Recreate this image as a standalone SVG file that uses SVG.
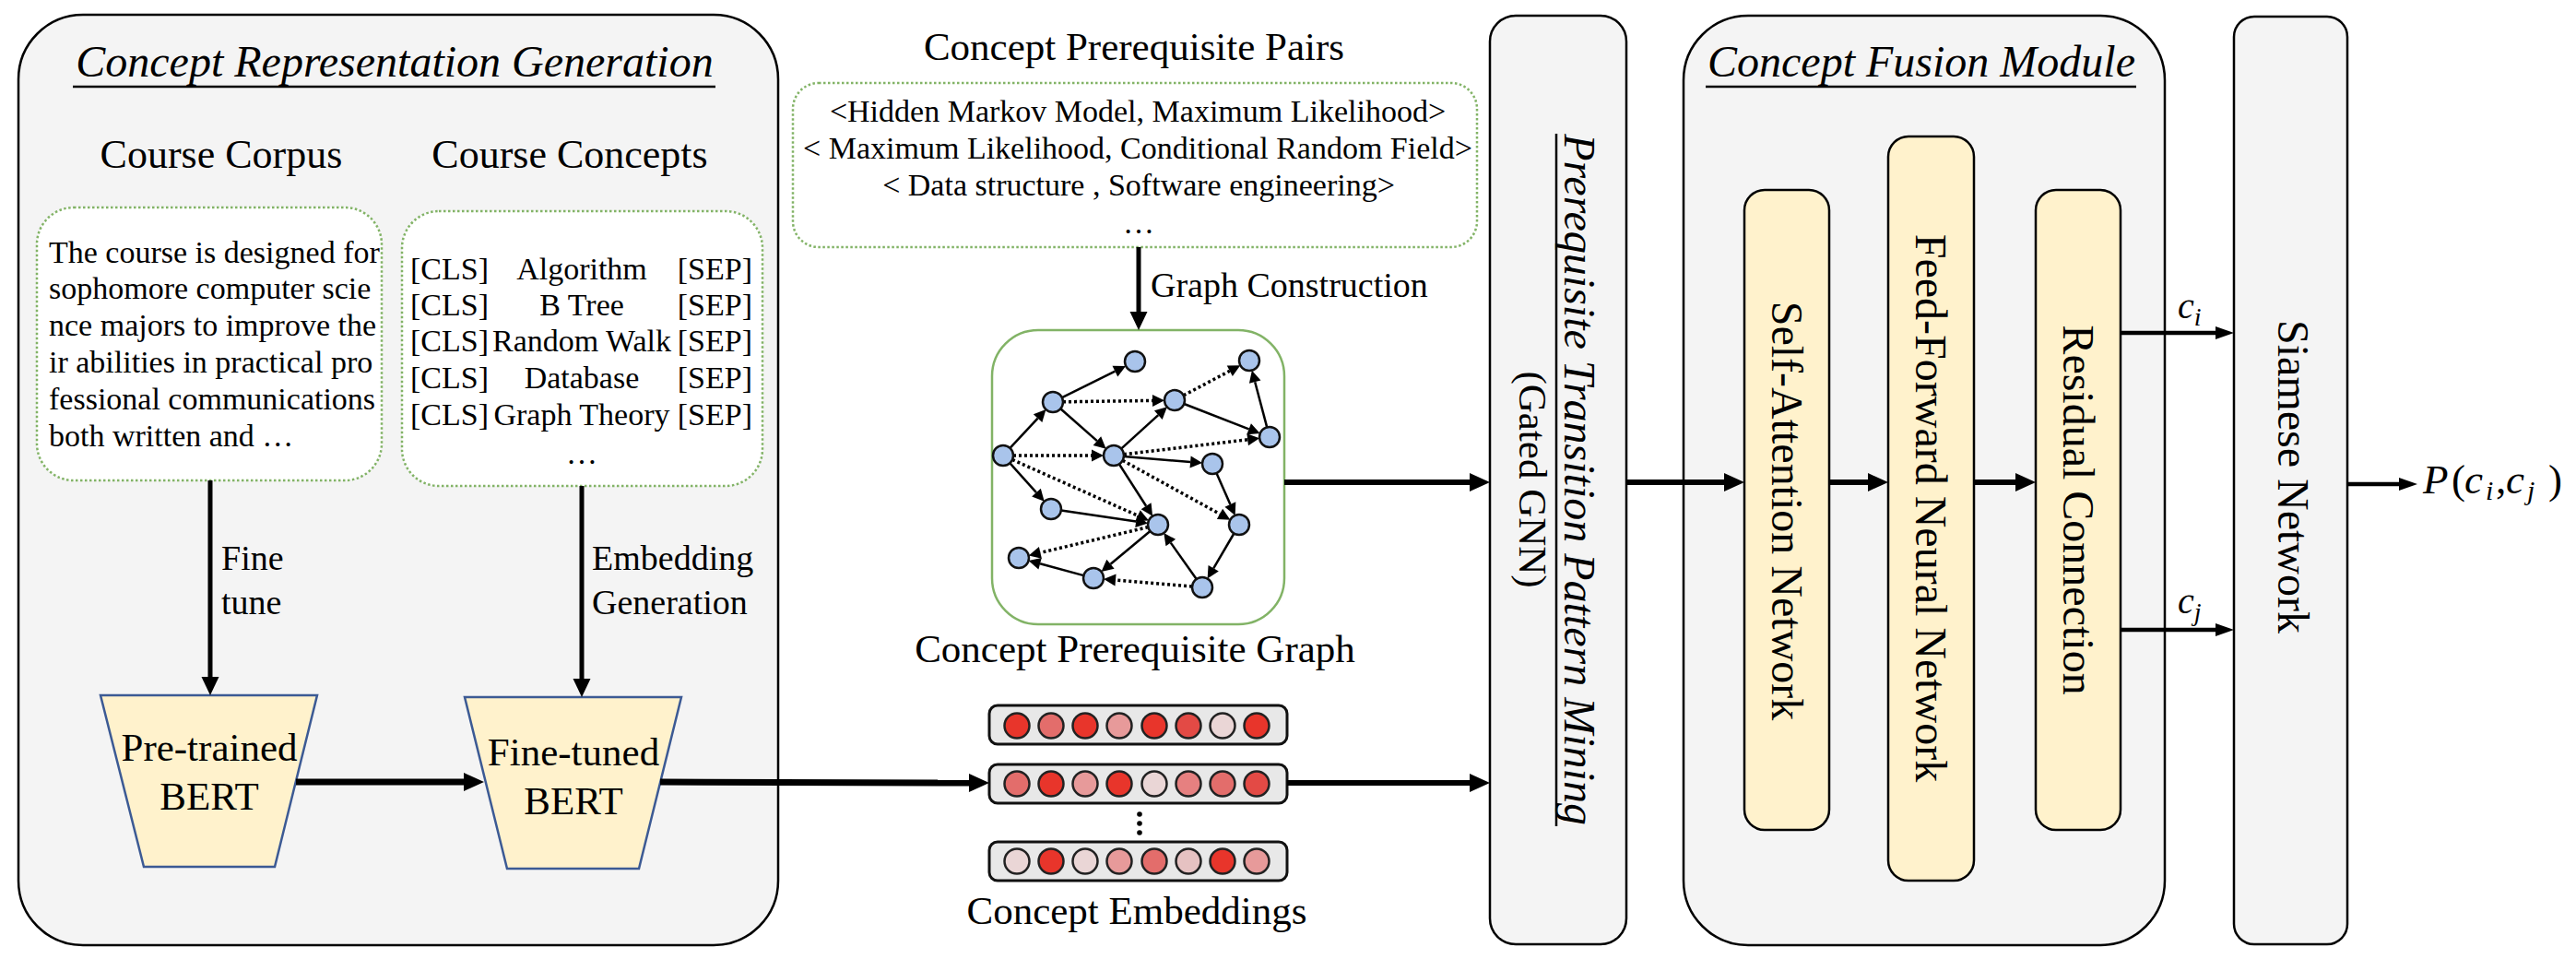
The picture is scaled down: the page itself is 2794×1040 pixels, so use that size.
<svg xmlns="http://www.w3.org/2000/svg" width="2794" height="1040" viewBox="0 0 2794 1040">
<defs>
<style>
.panel{fill:#f4f4f4;stroke:#000;stroke-width:2.5}
.dbox{fill:#fff;stroke:#82b366;stroke-width:2.5;stroke-dasharray:2.5 2.5}
.t{font-family:"Liberation Serif","Times New Roman",serif;fill:#000}
.yel{fill:#fff2cc;stroke:#000;stroke-width:2.5}
.trap{fill:#fff2cc;stroke:#3c5a94;stroke-width:2.5}
.ge{stroke:#000;stroke-width:2.5;fill:none}
.gd{stroke:#000;stroke-width:3.5;stroke-dasharray:3 3;fill:none}
.node{fill:#a9c4eb;stroke:#111;stroke-width:2.5}
.emb{fill:#e8e8e8;stroke:#111;stroke-width:3}
.ec{stroke:#222;stroke-width:2.5}
.c1{fill:#e8352b}.c2{fill:#e36d6b}.c3{fill:#e79a9a}.c4{fill:#ead6d6}.c5{fill:#e34a45}.c6{fill:#e68080}.c7{fill:#e6c2c2}
</style>
<marker id="aL" markerUnits="userSpaceOnUse" markerWidth="22" markerHeight="20" viewBox="0 -10 22 20" refX="0" refY="0" orient="auto" overflow="visible"><path d="M0,-10 L22,0 L0,10 z" fill="#000"/></marker>
<marker id="aM" markerUnits="userSpaceOnUse" markerWidth="20" markerHeight="19" viewBox="0 -9.5 20 19" refX="0" refY="0" orient="auto" overflow="visible"><path d="M0,-9.5 L20,0 L0,9.5 z" fill="#000"/></marker>
<marker id="aS" markerUnits="userSpaceOnUse" markerWidth="20" markerHeight="14" viewBox="0 -7 20 14" refX="0" refY="0" orient="auto" overflow="visible"><path d="M0,-7 L20,0 L0,7 z" fill="#000"/></marker>
<marker id="aG" markerUnits="userSpaceOnUse" markerWidth="13" markerHeight="13" viewBox="0 -6.5 13 13" refX="0" refY="0" orient="auto" overflow="visible"><path d="M0,-6.5 L13,0 L0,6.5 z" fill="#000"/></marker>
</defs>
<rect width="2794" height="1040" fill="#fff"/>

<g id="panel-crg">
<rect class="panel" x="20" y="16" width="824" height="1009" rx="70"/>
<text class="t" x="428" y="83" font-size="48" font-style="italic" text-anchor="middle">Concept Representation Generation</text>
<line x1="79" y1="94" x2="776" y2="94" stroke="#000" stroke-width="2.5"/>
</g>

<g id="course-corpus">
<text class="t" x="240" y="182" font-size="44" text-anchor="middle">Course Corpus</text>
<rect class="dbox" x="40" y="225" width="374" height="296" rx="40"/>
<g class="t" font-size="34">
<text x="53" y="285">The course is designed for</text>
<text x="53" y="324">sophomore computer scie</text>
<text x="53" y="364">nce majors to improve the</text>
<text x="53" y="404">ir abilities in practical pro</text>
<text x="53" y="444">fessional communications</text>
<text x="53" y="484">both written and  …</text>
</g>
</g>

<g id="course-concepts">
<text class="t" x="618" y="182" font-size="44" text-anchor="middle">Course Concepts</text>
<rect class="dbox" x="436" y="229" width="391" height="298" rx="40"/>
<g class="t" font-size="34">
<text x="445" y="303">[CLS]</text><text x="631" y="303" text-anchor="middle">Algorithm</text><text x="816" y="303" text-anchor="end">[SEP]</text>
<text x="445" y="342">[CLS]</text><text x="631" y="342" text-anchor="middle">B Tree</text><text x="816" y="342" text-anchor="end">[SEP]</text>
<text x="445" y="381">[CLS]</text><text x="631" y="381" text-anchor="middle">Random Walk</text><text x="816" y="381" text-anchor="end">[SEP]</text>
<text x="445" y="421">[CLS]</text><text x="631" y="421" text-anchor="middle">Database</text><text x="816" y="421" text-anchor="end">[SEP]</text>
<text x="445" y="461">[CLS]</text><text x="631" y="461" text-anchor="middle">Graph Theory</text><text x="816" y="461" text-anchor="end">[SEP]</text>
<text x="631" y="503" text-anchor="middle">…</text>
</g>
</g>

<g id="pretrained-bert">
<polygon class="trap" points="109,754 344,754 298,940 156,940"/>
<text class="t" x="227" y="825" font-size="43" text-anchor="middle">Pre-trained</text>
<text class="t" x="227" y="878" font-size="43" text-anchor="middle">BERT</text>
</g>

<g id="finetuned-bert">
<polygon class="trap" points="504,756 739,756 693,942 550,942"/>
<text class="t" x="622" y="830" font-size="43" text-anchor="middle">Fine-tuned</text>
<text class="t" x="622" y="883" font-size="43" text-anchor="middle">BERT</text>
</g>

<g id="prereq-pairs">
<text class="t" x="1230" y="65" font-size="43" text-anchor="middle">Concept Prerequisite Pairs</text>
<rect class="dbox" x="860" y="90" width="742" height="178" rx="28"/>
<g class="t" font-size="34" text-anchor="middle">
<text x="1234" y="132">&lt;Hidden Markov Model, Maximum Likelihood&gt;</text>
<text x="1234" y="172">&lt; Maximum Likelihood, Conditional Random Field&gt;</text>
<text x="1235" y="212">&lt; Data structure , Software engineering&gt;</text>
<text x="1235" y="253">…</text>
</g>
</g>

<g id="prereq-graph">
<rect x="1076" y="358" width="317" height="319" rx="50" fill="#fff" stroke="#82b366" stroke-width="2.5"/>
<g>
<line class="ge" x1="1151.9" y1="431.1" x2="1209.4" y2="402.7" marker-end="url(#aG)"/>
<line class="gd" x1="1153" y1="435.8" x2="1250" y2="434.4" marker-end="url(#aG)"/>
<line class="ge" x1="1150.3" y1="443.3" x2="1189.9" y2="478.1" marker-end="url(#aG)"/>
<line class="ge" x1="1095.5" y1="485.9" x2="1125.6" y2="453.6" marker-end="url(#aG)"/>
<line class="gd" x1="1099" y1="494" x2="1184" y2="494" marker-end="url(#aG)"/>
<line class="ge" x1="1095.3" y1="502.2" x2="1124" y2="534.1" marker-end="url(#aG)"/>
<line class="gd" x1="1098" y1="498.5" x2="1234.1" y2="559.2" marker-end="url(#aG)"/>
<line class="ge" x1="1216.1" y1="486.6" x2="1256.3" y2="450.1" marker-end="url(#aG)"/>
<line class="gd" x1="1218.9" y1="492.7" x2="1353.2" y2="476.8" marker-end="url(#aG)"/>
<line class="ge" x1="1219" y1="494.9" x2="1291.1" y2="501" marker-end="url(#aG)"/>
<line class="ge" x1="1213.9" y1="503.3" x2="1243.1" y2="548.8" marker-end="url(#aG)"/>
<line class="gd" x1="1217.6" y1="499.3" x2="1323" y2="557.4" marker-end="url(#aG)"/>
<line class="gd" x1="1283.7" y1="428.8" x2="1333.8" y2="402.3" marker-end="url(#aG)"/>
<line class="ge" x1="1284.3" y1="438" x2="1354.6" y2="465.3" marker-end="url(#aG)"/>
<line class="ge" x1="1374.2" y1="463.4" x2="1361.2" y2="414.2" marker-end="url(#aG)"/>
<line class="ge" x1="1319.4" y1="513.1" x2="1334.4" y2="547" marker-end="url(#aG)"/>
<line class="ge" x1="1150.9" y1="553.6" x2="1232.2" y2="565.5" marker-end="url(#aG)"/>
<line class="gd" x1="1245.3" y1="571.6" x2="1128.4" y2="599.4" marker-end="url(#aG)"/>
<line class="ge" x1="1247.5" y1="576" x2="1204.5" y2="611.7" marker-end="url(#aG)"/>
<line class="ge" x1="1175.4" y1="624.1" x2="1128.1" y2="611.3" marker-end="url(#aG)"/>
<line class="gd" x1="1293" y1="636.1" x2="1210" y2="629" marker-end="url(#aG)"/>
<line class="ge" x1="1297.7" y1="628" x2="1269.8" y2="588.6" marker-end="url(#aG)"/>
<line class="ge" x1="1338.4" y1="578.5" x2="1316.2" y2="616.3" marker-end="url(#aG)"/>
</g>
<g>
<circle class="node" cx="1231" cy="392" r="11"/>
<circle class="node" cx="1355" cy="391" r="11"/>
<circle class="node" cx="1142" cy="436" r="11"/>
<circle class="node" cx="1274" cy="434" r="11"/>
<circle class="node" cx="1377" cy="474" r="11"/>
<circle class="node" cx="1088" cy="494" r="11"/>
<circle class="node" cx="1208" cy="494" r="11"/>
<circle class="node" cx="1315" cy="503" r="11"/>
<circle class="node" cx="1140" cy="552" r="11"/>
<circle class="node" cx="1256" cy="569" r="11"/>
<circle class="node" cx="1344" cy="569" r="11"/>
<circle class="node" cx="1105" cy="605" r="11"/>
<circle class="node" cx="1186" cy="627" r="11"/>
<circle class="node" cx="1304" cy="637" r="11"/>
</g>
<text class="t" x="1231" y="718" font-size="43" text-anchor="middle">Concept Prerequisite Graph</text>
</g>

<g id="concept-embeddings">
<rect class="emb" x="1073" y="765" width="323" height="42" rx="9"/>
<rect class="emb" x="1073" y="829" width="323" height="42" rx="9"/>
<rect class="emb" x="1073" y="913" width="323" height="42" rx="9"/>
<g class="ec">
<circle class="c1" cx="1103" cy="787" r="13.5"/><circle class="c2" cx="1140" cy="787" r="13.5"/><circle class="c1" cx="1177" cy="787" r="13.5"/><circle class="c3" cx="1214" cy="787" r="13.5"/><circle class="c1" cx="1252" cy="787" r="13.5"/><circle class="c5" cx="1289" cy="787" r="13.5"/><circle class="c4" cx="1326" cy="787" r="13.5"/><circle class="c1" cx="1363" cy="787" r="13.5"/>
<circle class="c2" cx="1103" cy="850" r="13.5"/><circle class="c1" cx="1140" cy="850" r="13.5"/><circle class="c3" cx="1177" cy="850" r="13.5"/><circle class="c1" cx="1214" cy="850" r="13.5"/><circle class="c4" cx="1252" cy="850" r="13.5"/><circle class="c6" cx="1289" cy="850" r="13.5"/><circle class="c2" cx="1326" cy="850" r="13.5"/><circle class="c5" cx="1363" cy="850" r="13.5"/>
<circle class="c4" cx="1103" cy="934" r="13.5"/><circle class="c1" cx="1140" cy="934" r="13.5"/><circle class="c4" cx="1177" cy="934" r="13.5"/><circle class="c3" cx="1214" cy="934" r="13.5"/><circle class="c2" cx="1252" cy="934" r="13.5"/><circle class="c7" cx="1289" cy="934" r="13.5"/><circle class="c1" cx="1326" cy="934" r="13.5"/><circle class="c3" cx="1363" cy="934" r="13.5"/>
</g>
<circle cx="1236" cy="883" r="2.8" fill="#000"/><circle cx="1236" cy="893" r="2.8" fill="#000"/><circle cx="1236" cy="903" r="2.8" fill="#000"/>
<text class="t" x="1233" y="1002" font-size="43" text-anchor="middle">Concept Embeddings</text>
</g>

<g id="prereq-mining">
<rect class="panel" x="1616" y="17" width="148" height="1007" rx="28"/>
<text class="t" transform="translate(1697,520) rotate(90)" font-size="48" font-style="italic" text-anchor="middle">Prerequisite Transition Pattern Mining</text>
<line x1="1688" y1="145" x2="1688" y2="896" stroke="#000" stroke-width="2.5"/>
<text class="t" transform="translate(1648,520) rotate(90)" font-size="43" text-anchor="middle">(Gated GNN)</text>
</g>

<g id="fusion-module">
<rect class="panel" x="1826" y="17" width="522" height="1008" rx="70"/>
<text class="t" x="2084" y="83" font-size="48" font-style="italic" text-anchor="middle">Concept Fusion Module</text>
<line x1="1850" y1="94" x2="2317" y2="94" stroke="#000" stroke-width="2.5"/>
</g>

<g id="self-attention">
<rect class="yel" x="1892" y="206" width="92" height="694" rx="22"/>
<text class="t" transform="translate(1922,554) rotate(90)" font-size="48" text-anchor="middle">Self-Attention Network</text>
</g>
<g id="feed-forward">
<rect class="yel" x="2048" y="148" width="93" height="807" rx="22"/>
<text class="t" transform="translate(2078,551) rotate(90)" font-size="48" text-anchor="middle">Feed-Forward Neural Network</text>
</g>
<g id="residual">
<rect class="yel" x="2208" y="206" width="92" height="694" rx="22"/>
<text class="t" transform="translate(2238,553) rotate(90)" font-size="48" text-anchor="middle">Residual Connection</text>
</g>

<g id="siamese">
<rect class="panel" x="2423" y="18" width="123" height="1006" rx="22"/>
<text class="t" transform="translate(2471,517) rotate(90)" font-size="48" text-anchor="middle">Siamese Network</text>
</g>

<g id="output">
<text class="t" font-size="45" y="535"><tspan x="2628" font-style="italic">P</tspan><tspan x="2659">(</tspan><tspan x="2673" font-style="italic">c</tspan><tspan x="2696" dy="7" font-size="30" font-style="italic">i</tspan><tspan x="2707" dy="-7">,</tspan><tspan x="2718" font-style="italic">c</tspan><tspan x="2741" dy="7" font-size="30" font-style="italic">j</tspan><tspan x="2764" dy="-7">)</tspan></text>
</g>

<g id="connectors" stroke="#000" fill="none">
<line x1="228" y1="521" x2="228" y2="734" stroke-width="5" marker-end="url(#aM)"/>
<text class="t" x="240" y="618" font-size="38" stroke="none">Fine</text>
<text class="t" x="240" y="666" font-size="38" stroke="none">tune</text>
<line x1="631" y1="527" x2="631" y2="736" stroke-width="5" marker-end="url(#aM)"/>
<text class="t" x="642" y="618" font-size="38" stroke="none">Embedding</text>
<text class="t" x="642" y="666" font-size="38" stroke="none">Generation</text>
<line x1="1235" y1="268" x2="1235" y2="338" stroke-width="5" marker-end="url(#aM)"/>
<text class="t" x="1248" y="322" font-size="38" stroke="none">Graph Construction</text>
<line x1="321" y1="848" x2="503" y2="848" stroke-width="7" marker-end="url(#aL)"/>
<line x1="716" y1="848" x2="1051" y2="849" stroke-width="7" marker-end="url(#aL)"/>
<line x1="1396" y1="849" x2="1594" y2="849" stroke-width="6" marker-end="url(#aL)"/>
<line x1="1393" y1="523" x2="1594" y2="523" stroke-width="6" marker-end="url(#aL)"/>
<line x1="1764" y1="523" x2="1870" y2="523" stroke-width="6" marker-end="url(#aL)"/>
<line x1="1984" y1="523" x2="2026" y2="523" stroke-width="6" marker-end="url(#aL)"/>
<line x1="2141" y1="523" x2="2186" y2="523" stroke-width="6" marker-end="url(#aL)"/>
<line x1="2300" y1="361" x2="2403" y2="361" stroke-width="4.5" marker-end="url(#aS)"/>
<text class="t" x="2362" y="345" font-size="40" font-style="italic" stroke="none">c<tspan dy="8" font-size="28">i</tspan></text>
<line x1="2300" y1="683" x2="2403" y2="683" stroke-width="4.5" marker-end="url(#aS)"/>
<text class="t" x="2362" y="665" font-size="40" font-style="italic" stroke="none">c<tspan dy="8" font-size="28">j</tspan></text>
<line x1="2546" y1="525" x2="2602" y2="525" stroke-width="4.5" marker-end="url(#aS)"/>
</g>
</svg>
